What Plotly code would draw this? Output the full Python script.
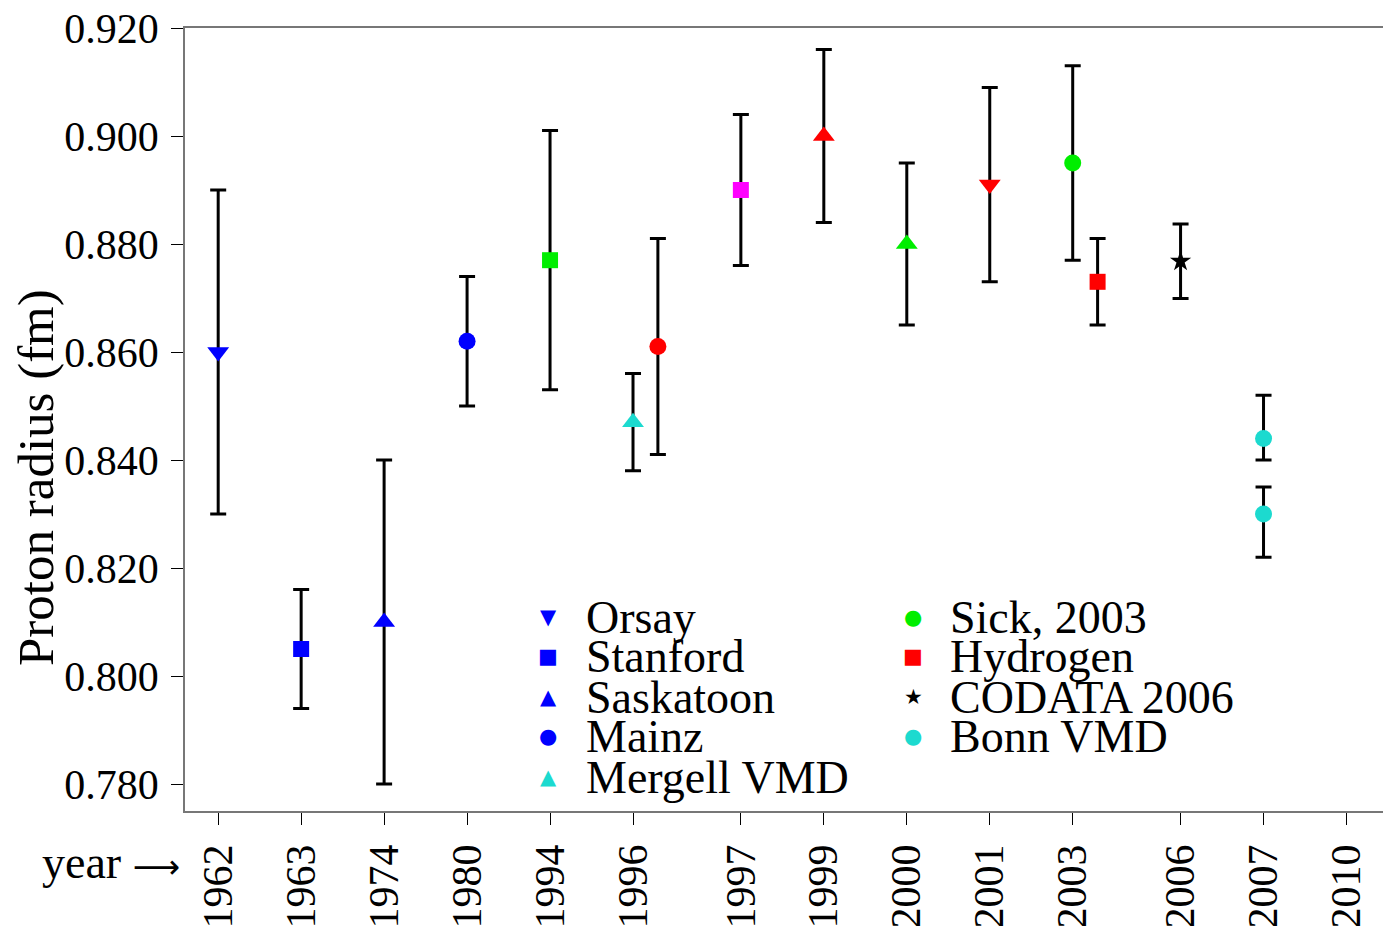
import plotly.graph_objects as go

# ---- data ----
tick_years = ["1962", "1963", "1974", "1980", "1994", "1996", "1997",
              "1999", "2000", "2001", "2003", "2006", "2007", "2010"]
tick_pos = [0, 1, 2, 3, 4, 5, 6.3, 7.3, 8.3, 9.3, 10.3, 11.6, 12.6, 13.6]

labels = ["Orsay", "Stanford", "Saskatoon", "Mainz", "1994", "Mergell VMD",
          "1996b", "1997", "1999", "2000", "2001", "Sick, 2003", "Hydrogen",
          "CODATA 2006", "Bonn VMD", "Bonn VMD"]
xpos = [0, 1, 2, 3, 4, 5, 5.3, 6.3, 7.3, 8.3, 9.3, 10.3, 10.6, 11.6, 12.6, 12.6]
radius = [0.860, 0.805, 0.810, 0.862, 0.877, 0.847, 0.861, 0.890, 0.900,
          0.880, 0.891, 0.895, 0.873, 0.8768, 0.844, 0.830]
err_plus = [0.030, 0.011, 0.030, 0.012, 0.024, 0.009, 0.020, 0.014, 0.016,
            0.015, 0.018, 0.018, 0.008, 0.0069, 0.008, 0.005]
err_minus = [0.030, 0.011, 0.030, 0.012, 0.024, 0.009, 0.020, 0.014, 0.016,
             0.015, 0.018, 0.018, 0.008, 0.0069, 0.004, 0.008]

# ---- styles ----
BLUE, GREEN, RED, MAG, CYAN = "#0000FF", "#00EE00", "#FF0000", "#FF00FF", "#1CDACF"
style = {
    "Orsay": (BLUE, "triangle-down", 19),
    "Stanford": (BLUE, "square", 16),
    "Saskatoon": (BLUE, "triangle-up", 19),
    "Mainz": (BLUE, "circle", 17),
    "1994": (GREEN, "square", 16),
    "Mergell VMD": (CYAN, "triangle-up", 19),
    "1996b": (RED, "circle", 17),
    "1997": (MAG, "square", 16),
    "1999": (RED, "triangle-up", 19),
    "2000": (GREEN, "triangle-up", 19),
    "2001": (RED, "triangle-down", 19),
    "Sick, 2003": (GREEN, "circle", 17),
    "Hydrogen": (RED, "square", 16),
    "CODATA 2006": ("black", "star", 16),
    "Bonn VMD": (CYAN, "circle", 17),
}

fig = go.Figure()
for lab, x, y, ep, em in zip(labels, xpos, radius, err_plus, err_minus):
    col, sym, sz = style[lab]
    fig.add_trace(go.Scatter(
        x=[x], y=[y], mode="markers", showlegend=False,
        marker=dict(color=col, symbol=sym, size=sz, line=dict(width=0)),
        error_y=dict(type="data", symmetric=False, array=[ep], arrayminus=[em],
                     color="black", thickness=3, width=8),
    ))

# ---- layout helpers ----
W, H = 1383, 926
L, R, T, B = 185, 0, 28, 115
pw, ph = W - L - R, H - T - B


def px(xp):
    return (xp - L) / pw


def py(yp):
    return (H - B - yp) / ph


SERIF = "Liberation Serif"
ann = []
# manual legend
leg_col1 = ["Orsay", "Stanford", "Saskatoon", "Mainz", "Mergell VMD"]
leg_col2 = ["Sick, 2003", "Hydrogen", "CODATA 2006", "Bonn VMD"]
glyph = {"triangle-down": "\u25BC", "square": "\u25A0", "triangle-up": "\u25B2",
         "circle": "\u25CF", "star": "\u2605"}
rows = [617, 656, 697, 736, 777]
for col_items, mx, tx in ((leg_col1, 548, 584), (leg_col2, 913, 948)):
    for name, ry in zip(col_items, rows):
        c, s, _ = style[name]
        ann.append(dict(x=px(mx), y=py(ry), xref="paper", yref="paper",
                        text=glyph[s], showarrow=False, xanchor="center",
                        yanchor="middle",
                        font=dict(family="DejaVu Sans", size=21, color=c)))
        ann.append(dict(x=px(tx), y=py(ry), xref="paper", yref="paper",
                        text=name, showarrow=False, xanchor="left",
                        yanchor="middle",
                        font=dict(family=SERIF, size=46, color="black")))

ann.append(dict(x=px(182), y=py(862), xref="paper", yref="paper",
                text="year <span style='font-family:DejaVu Sans;font-size:33px'>\u27F6</span>",
                showarrow=False, xanchor="right",
                yanchor="middle", font=dict(family=SERIF, size=46, color="black")))
ann.append(dict(x=px(36), y=py(478), xref="paper", yref="paper",
                text="Proton radius (fm)", textangle=-90, showarrow=False,
                xanchor="center", yanchor="middle",
                font=dict(family=SERIF, size=51, color="black")))

fig.update_layout(
    width=W, height=H,
    margin=dict(l=L, r=R, t=T, b=B, pad=0),
    paper_bgcolor="white", plot_bgcolor="white",
    font=dict(family=SERIF, color="black"),
    annotations=ann,
    xaxis=dict(range=[-0.4, 14.04], tickvals=tick_pos, ticktext=tick_years,
               tickangle=-90, ticks="outside", ticklen=12, tickwidth=1.2,
               tickcolor="black", showgrid=False, zeroline=False, automargin=False,
               showline=True, linecolor="#777777", linewidth=1.5, mirror=True,
               ticklabelstandoff=3,
               tickfont=dict(family=SERIF, size=42, color="black")),
    yaxis=dict(range=[0.775, 0.920], tickvals=[0.78, 0.80, 0.82, 0.84, 0.86, 0.88, 0.90, 0.92],
               tickformat=".3f", ticks="outside", ticklen=12, tickwidth=1.2,
               tickcolor="black", showgrid=False, zeroline=False, automargin=False,
               showline=True, linecolor="#777777", linewidth=1.5,
               ticklabelstandoff=4,
               tickfont=dict(family=SERIF, size=42, color="black")),
)

fig.write_html("out.html", config={"displayModeBar": False},
               post_script="document.body.style.margin='0';document.body.style.overflow='hidden';")
